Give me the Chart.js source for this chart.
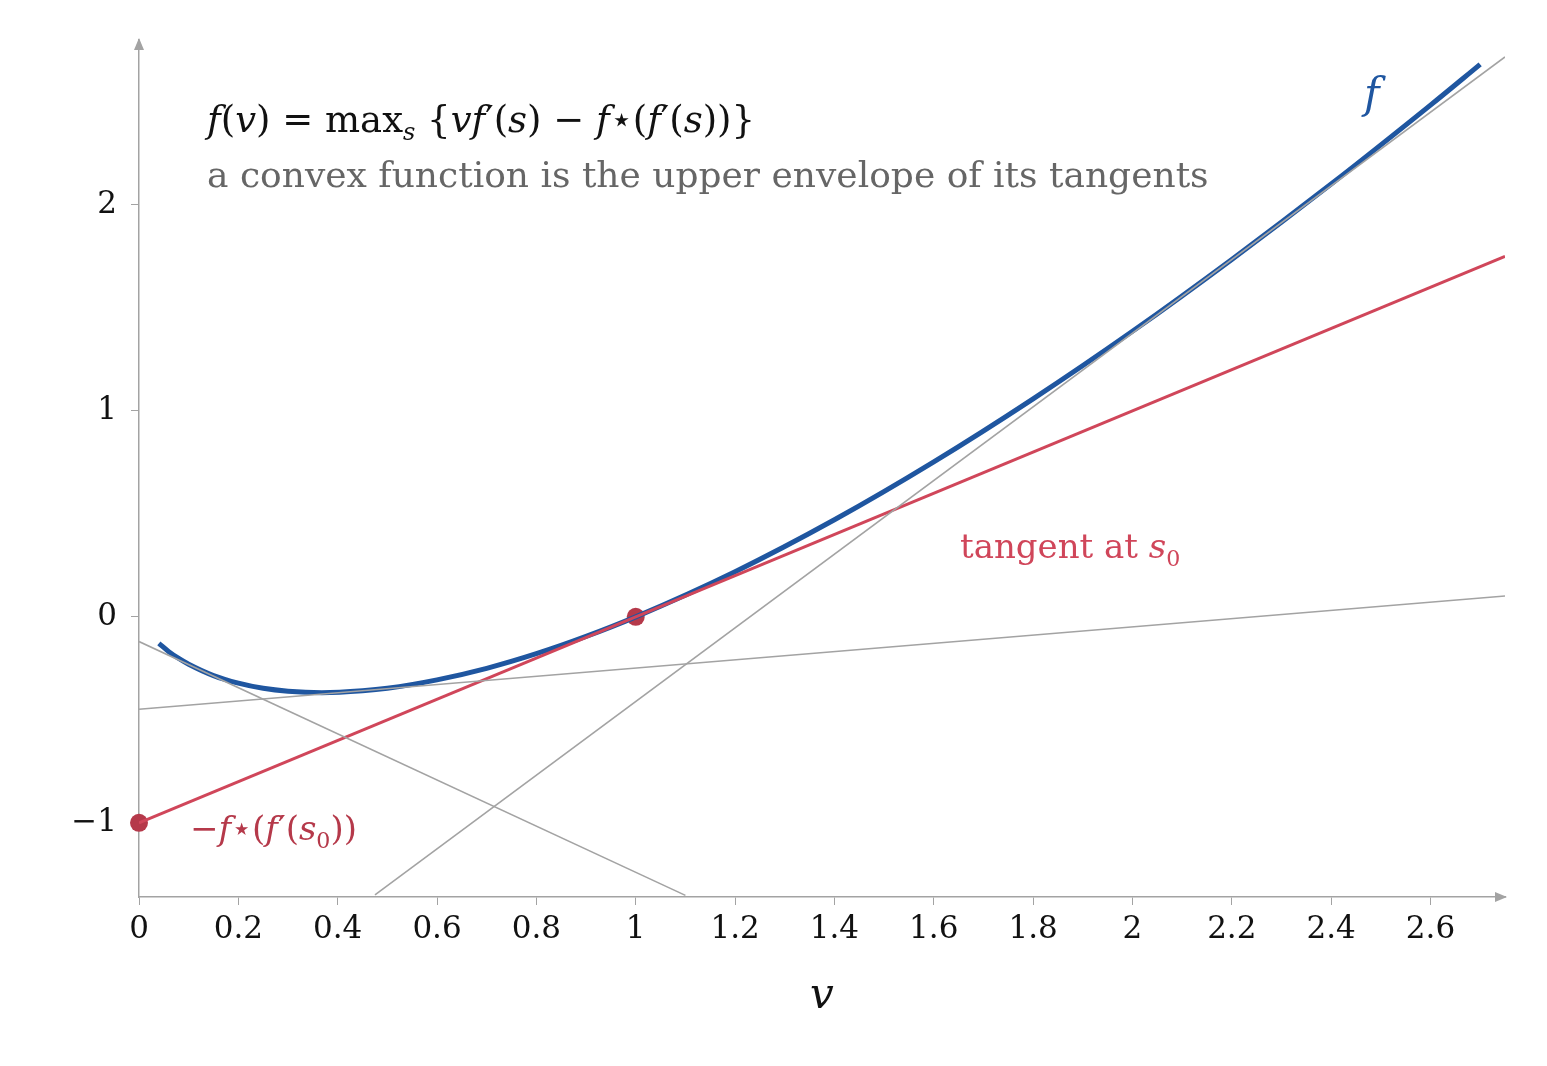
<!DOCTYPE html>
<html><head><meta charset="utf-8">
<script src="https://cdn.jsdelivr.net/npm/chart.js@4/dist/chart.umd.min.js"></script>
<style>html,body{margin:0;padding:0;background:#fff}</style>
</head><body>
<canvas id="c" width="1547" height="1066" style="width:1547px;height:1066px"></canvas>
<script>
// f(v) = v ln v, sampled
const curveV = [0.04,0.06,0.08,0.1,0.15,0.2,0.25,0.3,0.368,0.45,0.5,0.6,0.7,0.8,0.9,1.0,1.2,1.4,1.6,1.8,2.0,2.2,2.4,2.6,2.7];
const curveF = [-0.129,-0.169,-0.202,-0.230,-0.285,-0.322,-0.347,-0.361,-0.368,-0.359,-0.347,-0.306,-0.250,-0.179,-0.095,0,0.219,0.471,0.752,1.058,1.386,1.735,2.101,2.484,2.682];
const redTangentV = [0, 2.75];
const redTangentY = [-1, 1.75];
const grayShallowV = [0, 2.75], grayShallowY = [-0.449, 0.101];
const grayNegV = [0, 1.1], grayNegY = [-0.12, -1.352];
const graySteepV = [0.475, 2.75], graySteepY = [-1.35, 2.718];
const dotV = [0, 1], dotY = [-1, 0];
const xTicks = [0,0.2,0.4,0.6,0.8,1,1.2,1.4,1.6,1.8,2,2.2,2.4,2.6];
const yTicks = [-1,0,1,2];

const pts = (xs, ys) => xs.map((x,i)=>({x, y: ys[i]}));
const SERIF = '"DejaVu Serif", "Liberation Serif", serif';
const gray = '#a3a3a3';

function rich(ctx, parts, x, y, size, color){
  ctx.fillStyle = color;
  for (const [t, st, dy, sc] of parts){
    const s = sc ? size*sc : size;
    ctx.font = (st==='i' ? 'italic ' : '') + s + 'px ' + SERIF;
    ctx.fillText(t, x, y + (dy||0));
    x += ctx.measureText(t).width;
  }
}

const deco = {
  id: 'deco',
  afterDraw(chart){
    const ctx = chart.ctx, a = chart.chartArea;
    ctx.save();
    ctx.fillStyle = gray; ctx.strokeStyle = gray;
    ctx.beginPath(); ctx.moveTo(a.left, a.top-2); ctx.lineTo(a.left-5, a.top+10); ctx.lineTo(a.left+5, a.top+10); ctx.closePath(); ctx.fill();
    ctx.beginPath(); ctx.moveTo(a.right+2, a.bottom); ctx.lineTo(a.right-10, a.bottom-5); ctx.lineTo(a.right-10, a.bottom+5); ctx.closePath(); ctx.fill();
    ctx.textBaseline = 'alphabetic';
    rich(ctx, [['f','i'],['(',''],['v','i'],[') = max',''],['s','i',8,0.65],[' {',''],['vf','i'],['\u2032(',''],['s','i'],[') \u2212 ',''],['f','i'],['\u22C6(',''],['f','i'],['\u2032(',''],['s','i'],['))}','']], 207, 132, 37, '#111');
    ctx.fillStyle = '#666'; ctx.font = '36px ' + SERIF;
    ctx.fillText("a convex function is the upper envelope of its tangents", 207, 187);
    ctx.fillStyle = '#1f56a0'; ctx.font = 'italic 42px ' + SERIF;
    ctx.fillText("f", 1364, 108);
    rich(ctx, [['tangent at ',''],['s','i'],['0','',8,0.65]], 960, 558, 34, '#d0465a');
    rich(ctx, [['\u2212','' ],['f','i'],['\u22C6(',''],['f','i'],['\u2032(',''],['s','i'],['0','',8,0.65],['))','']], 190, 840, 34, '#b5394a');
    ctx.fillStyle = '#111'; ctx.font = 'italic 42px ' + SERIF;
    ctx.fillText("v", 810, 1008);
    ctx.restore();
  }
};

const line = (data, color, w) => ({data, borderColor: color, borderWidth: w, showLine: true, pointRadius: 0, fill: false});

new Chart(document.getElementById('c'), {
  type: 'scatter',
  data: { datasets: [
    line(pts(grayShallowV, grayShallowY), gray, 1.6),
    line(pts(grayNegV, grayNegY), gray, 1.6),
    line(pts(graySteepV, graySteepY), gray, 1.6),
    line(pts(redTangentV, redTangentY), '#d0465a', 3),
    Object.assign(line(pts(curveV, curveF), '#1f56a0', 5), {tension: 0.4, cubicInterpolationMode: 'monotone'}),
    {data: pts(dotV, dotY), showLine: false, pointRadius: 9, pointBackgroundColor: '#b5394a', pointBorderWidth: 0, clip: false}
  ]},
  options: {
    responsive: false, animation: false, devicePixelRatio: 1,
    layout: {padding: {top: 40, right: 42, left: 0, bottom: 0}},
    plugins: {legend: {display: false}, tooltip: {enabled: false}},
    scales: {
      x: {
        type: 'linear', min: 0, max: 2.75,
        afterFit(s){ s.height = 169; },
        afterBuildTicks(s){ s.ticks = xTicks.map(v=>({value: v})); },
        grid: {drawOnChartArea: false, color: gray, tickLength: 8, lineWidth: 1},
        border: {color: gray, width: 1.5},
        ticks: {color: '#111', font: {family: SERIF, size: 31}, padding: 6, maxRotation: 0, autoSkip: false,
          callback: v => String(v)}
      },
      y: {
        type: 'linear', min: -1.36, max: 2.8,
        afterFit(s){ s.width = 139; },
        afterBuildTicks(s){ s.ticks = yTicks.map(v=>({value: v})); },
        grid: {drawOnChartArea: false, color: gray, tickLength: 8, lineWidth: 1},
        border: {color: gray, width: 1.5},
        ticks: {color: '#111', font: {family: SERIF, size: 31}, padding: 14,
          callback: v => v < 0 ? '\u2212' + Math.abs(v) : String(v)}
      }
    }
  },
  plugins: [deco]
});
</script>
</body></html>
